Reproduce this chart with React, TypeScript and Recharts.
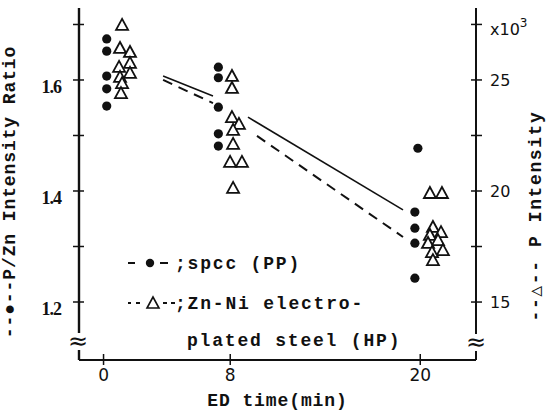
import { ComposedChart, Scatter, Line, XAxis, YAxis, Legend } from "recharts";

// tick values
const xTicks = [0, 8, 20];
const ratioTicks = [1.2, 1.3, 1.4, 1.5, 1.6, 1.7];
const ratioLabeled = [1.2, 1.4, 1.6];
const intensityTicks = [15, 17.5, 20, 22.5, 25, 27.5];
const intensityLabeled = [15, 20, 25];

// spcc (PP): P/Zn intensity ratio, left axis
const spccTime = [0.2, 0.2, 0.2, 0.2, 0.2, 7.25, 7.25, 7.25, 7.25, 7.25, 19.85, 19.66, 19.66, 19.66, 19.66];
const spccRatio = [1.674, 1.652, 1.607, 1.584, 1.553, 1.623, 1.604, 1.551, 1.503, 1.481, 1.477, 1.362, 1.333, 1.306, 1.243];

// Zn-Ni electroplated steel (HP): P intensity (x10^3), right axis
const znniTime = [
  1.17, 1.04, 1.67, 1.67, 0.98, 1.67, 1.04, 1.17, 1.1,
  8.11, 8.11, 8.11, 8.55, 8.18, 8.18, 7.99, 8.74, 8.18,
  20.61, 21.37, 20.8, 21.31, 20.61, 21.12, 20.49, 21.43, 20.74, 20.8,
];
const znniIntensity = [
  27.48, 26.44, 26.26, 25.77, 25.59, 25.32, 25.14, 24.86, 24.41,
  25.18, 24.64, 23.33, 23.02, 22.75, 22.12, 21.31, 21.31, 20.14,
  19.91, 19.91, 18.38, 18.15, 18.02, 17.79, 17.66, 17.34, 17.25, 16.89,
];

// trend lines (drawn in two pieces, broken around the 8 min cluster)
const solidTimeA = [3.76, 6.91];
const solidRatioA = [1.607, 1.571];
const solidTimeB = [9.12, 18.91];
const solidRatioB = [1.533, 1.366];
const dashTimeA = [3.76, 6.91];
const dashIntensityA = [25.0, 23.96];
const dashTimeB = [9.69, 18.91];
const dashIntensityB = [22.48, 17.93];

const toPoints = (ts: number[], vs: number[]) => ts.map((t, i) => ({ t, v: vs[i] }));

const spccPoints = toPoints(spccTime, spccRatio);
const znniPoints = toPoints(znniTime, znniIntensity);
const solidA = toPoints(solidTimeA, solidRatioA);
const solidB = toPoints(solidTimeB, solidRatioB);
const dashA = toPoints(dashTimeA, dashIntensityA);
const dashB = toPoints(dashTimeB, dashIntensityB);

const MONO = "'Liberation Mono', 'DejaVu Sans Mono', monospace";
const INK = "#111";

const DotShape = (p: any) => <circle cx={p.cx} cy={p.cy} r={4.6} fill={INK} />;
const TriShape = (p: any) => (
  <polygon
    points={`${p.cx},${p.cy - 6} ${p.cx - 6},${p.cy + 5} ${p.cx + 6},${p.cy + 5}`}
    fill="#fff"
    stroke={INK}
    strokeWidth={1.8}
    strokeLinejoin="miter"
  />
);

const XTick = (p: any) => (
  <g>
    <line x1={p.x} x2={p.x} y1={p.y - 6} y2={p.y + 5} stroke={INK} strokeWidth={1.5} />
    <text x={p.x} y={p.y + 21} textAnchor="middle" fontSize={17} fontFamily="DejaVu Sans" fill={INK}>
      {p.payload.value}
    </text>
  </g>
);

const LeftTick = (p: any) => (
  <g>
    <line x1={p.x - 6} x2={p.x + 5} y1={p.y} y2={p.y} stroke={INK} strokeWidth={1.5} />
    {ratioLabeled.includes(p.payload.value) && (
      <text x={p.x - 18} y={p.y + 13} textAnchor="end" fontSize={18} fontWeight="bold"
        fontFamily="'Liberation Serif'" letterSpacing={-1} fill={INK}>
        {p.payload.value.toFixed(1)}
      </text>
    )}
  </g>
);

const RightTick = (p: any) => (
  <g>
    <line x1={p.x - 5} x2={p.x + 6} y1={p.y} y2={p.y} stroke={INK} strokeWidth={1.5} />
    {intensityLabeled.includes(p.payload.value) && (
      <text x={p.x + 14} y={p.y + 6} fontSize={16} fontFamily="DejaVu Sans" fill={INK}>
        {p.payload.value}
      </text>
    )}
    {p.payload.value === 27.5 && (
      <text x={p.x + 14} y={p.y + 11} fontSize={16} fontFamily="DejaVu Sans" fill={INK}>
        x10<tspan dy={-8} fontSize={12}>3</tspan>
      </text>
    )}
  </g>
);

const legendText = { fontFamily: MONO, fontWeight: "bold", fontSize: 18, letterSpacing: 1.8, fill: INK } as const;

const LegendBox = () => (
  <svg width={300} height={110}>
    <line x1={8} x2={15} y1={18} y2={18} stroke={INK} strokeWidth={2} />
    <circle cx={30} cy={18} r={4.2} fill={INK} />
    <line x1={40} x2={48} y1={18} y2={18} stroke={INK} strokeWidth={2} />
    <text x={55} y={24} {...legendText}>;spcc (PP)</text>
    <line x1={8} x2={11} y1={58} y2={58} stroke={INK} strokeWidth={2} />
    <line x1={16} x2={20} y1={58} y2={58} stroke={INK} strokeWidth={2} />
    <polygon points="33,52 27,63 39,63" fill="#fff" stroke={INK} strokeWidth={1.6} />
    <line x1={43} x2={47} y1={58} y2={58} stroke={INK} strokeWidth={2} />
    <line x1={51} x2={55} y1={58} y2={58} stroke={INK} strokeWidth={2} />
    <text x={55} y={64} {...legendText}>;Zn-Ni electro-</text>
    <text x={67} y={101} {...legendText}>plated steel (HP)</text>
  </svg>
);

export default function App() {
  return (
    <div style={{ position: "absolute", left: 0, top: 0, width: 551, height: 412, background: "#fff" }}>
      <ComposedChart width={551} height={412} margin={{ top: 8, right: 20, bottom: 22, left: 29 }}>
        <XAxis
          dataKey="t"
          type="number"
          domain={[-1.55, 23.52]}
          ticks={xTicks}
          allowDataOverflow
          height={30}
          tickSize={0}
          tickMargin={0}
          tick={<XTick />}
          axisLine={{ stroke: INK, strokeWidth: 2 }}
          tickLine={false}
          label={{
            value: "ED time(min)",
            position: "insideBottom",
            offset: -16,
            style: { fontFamily: MONO, fontWeight: "bold", fontSize: 18, letterSpacing: 0.9, fill: INK },
          }}
        />
        <XAxis
          xAxisId="top"
          dataKey="t"
          type="number"
          orientation="top"
          domain={[-1.55, 23.52]}
          allowDataOverflow
          height={0}
          tick={false}
          tickLine={false}
          axisLine={{ stroke: INK, strokeWidth: 2 }}
        />
        <YAxis
          yAxisId="L"
          type="number"
          domain={[1.0955, 1.7297]}
          ticks={ratioTicks}
          allowDataOverflow
          width={50}
          tickSize={0}
          tickMargin={0}
          tick={<LeftTick />}
          tickLine={false}
          axisLine={{ stroke: INK, strokeWidth: 2.4 }}
          label={{
            value: "--●--P/Zn Intensity Ratio",
            angle: -90,
            position: "insideLeft",
            offset: -20,
            dy: 8,
            style: { fontFamily: MONO, fontWeight: "bold", fontSize: 18, letterSpacing: 0.9, fill: INK, textAnchor: "middle" },
          }}
        />
        <YAxis
          yAxisId="R"
          orientation="right"
          type="number"
          domain={[12.39, 28.24]}
          ticks={intensityTicks}
          allowDataOverflow
          width={55}
          tickSize={0}
          tickMargin={0}
          tick={<RightTick />}
          tickLine={false}
          axisLine={{ stroke: INK, strokeWidth: 2 }}
          label={{
            value: "--△-- P Intensity",
            angle: -90,
            position: "insideRight",
            offset: -4,
            dy: 32,
            style: { fontFamily: MONO, fontWeight: "bold", fontSize: 18, letterSpacing: 1.6, fill: INK, textAnchor: "middle" },
          }}
        />
        <Legend
          layout="horizontal"
          verticalAlign="middle"
          align="center"
          content={<LegendBox />}
          wrapperStyle={{ left: 120, top: 245, width: 300, height: 110 }}
        />
        <Line data={solidA} dataKey="v" yAxisId="L" stroke={INK} strokeWidth={1.6} dot={false} legendType="none" isAnimationActive={false} />
        <Line data={solidB} dataKey="v" yAxisId="L" stroke={INK} strokeWidth={1.6} dot={false} legendType="none" isAnimationActive={false} />
        <Line data={dashA} dataKey="v" yAxisId="R" stroke={INK} strokeWidth={2} strokeDasharray="10 7" dot={false} legendType="none" isAnimationActive={false} />
        <Line data={dashB} dataKey="v" yAxisId="R" stroke={INK} strokeWidth={2} strokeDasharray="10 7" dot={false} legendType="none" isAnimationActive={false} />
        <Scatter name="spcc (PP)" data={spccPoints} dataKey="v" yAxisId="L" shape={DotShape} isAnimationActive={false} />
        <Scatter name="Zn-Ni electroplated steel (HP)" data={znniPoints} dataKey="v" yAxisId="R" shape={TriShape} isAnimationActive={false} />
      </ComposedChart>
      <svg width={551} height={412} style={{ position: "absolute", left: 0, top: 0, pointerEvents: "none" }}>
        <rect x={70} y={333} width={18} height={17} fill="#fff" />
        <text x={78} y={349} textAnchor="middle" fontSize={24} fontFamily="DejaVu Sans" fill={INK}>≈</text>
        <rect x={467} y={334} width={18} height={17} fill="#fff" />
        <text x={476} y={350} textAnchor="middle" fontSize={24} fontFamily="DejaVu Sans" fill={INK}>≈</text>
      </svg>
    </div>
  );
}
